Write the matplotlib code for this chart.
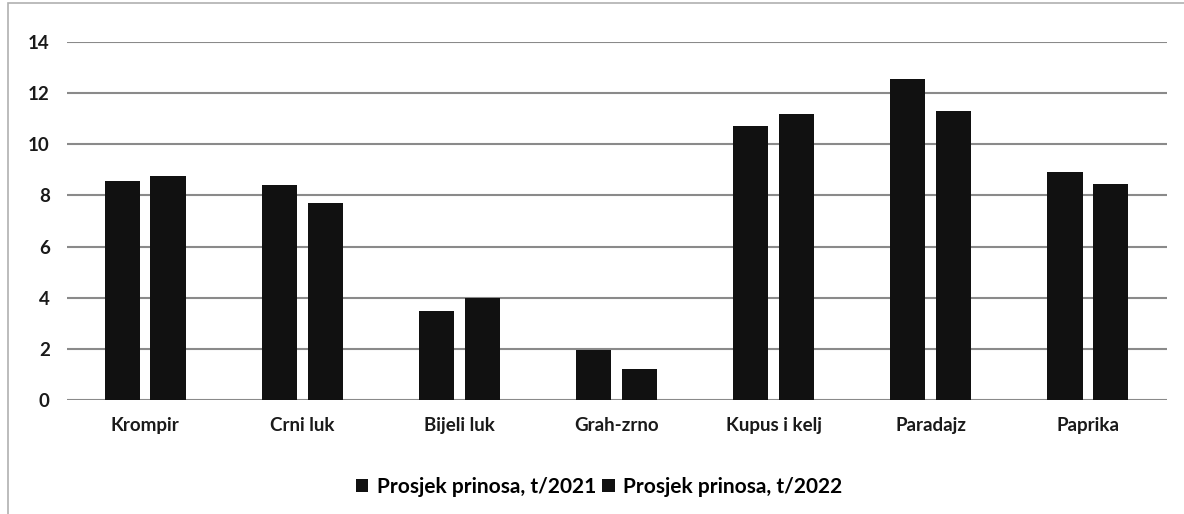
import numpy as np
import matplotlib.pyplot as plt
from matplotlib.patches import Rectangle


# podaci (procjena sa slike)
kulture = ['Krompir', 'Crni luk', 'Bijeli luk', 'Grah-zrno', 'Kupus i kelj', 'Paradajz', 'Paprika']
prinos_2021 = [8.55, 8.4, 3.5, 1.95, 10.7, 12.55, 8.9]
prinos_2022 = [8.75, 7.7, 4.0, 1.2, 11.2, 11.3, 8.45]
serije = ['Prosjek prinosa, t/2021', 'Prosjek prinosa, t/2022']
y_ticks = [0, 2, 4, 6, 8, 10, 12, 14]

plt.rcParams['font.family'] = ['Lato', 'DejaVu Sans']

fig = plt.figure(figsize=(11.84, 5.14), dpi=100)
ax = fig.add_axes([66.5 / 1184, 1 - 400 / 514, 1100 / 1184, 358 / 514])

x = np.arange(len(kulture))
w = 0.223
off = 0.146

ax.bar(x - off, prinos_2021, width=w, color='#111111', label=serije[0], zorder=3)
ax.bar(x + off, prinos_2022, width=w, color='#111111', label=serije[1], zorder=3)

ax.set_xlim(-0.5, len(kulture) - 0.5)
ax.set_ylim(0, 14)
ax.set_yticks(y_ticks)
ax.set_xticks(x)
ax.set_xticklabels(kulture, fontsize=13.5, fontweight='bold', color='#1a1a1a')
ax.set_yticklabels([str(t) for t in y_ticks], fontsize=13.5, fontweight='bold', color='#1a1a1a')

ax.tick_params(axis='both', length=0)
ax.tick_params(axis='y', pad=12)
ax.tick_params(axis='x', pad=12)

ax.yaxis.grid(True, color='#8a8a8a', linewidth=1.5, zorder=0)
ax.set_axisbelow(True)
for s in ax.spines.values():
    s.set_visible(False)

fig.legend(loc='center', bbox_to_anchor=(0.506, 1 - 487 / 514), ncol=2,
           frameon=False, handlelength=0.6, handleheight=0.6,
           handletextpad=0.4, columnspacing=0.3,
           prop={'weight': 'bold', 'size': 15})

# okvir grafikona
fig.patches.append(Rectangle((8 / 1184, -0.01), 1.02, 1.005, transform=fig.transFigure,
                             fill=False, edgecolor='#b0b0b0', linewidth=1.2))

fig.savefig('out.png', dpi=100, facecolor='white')
